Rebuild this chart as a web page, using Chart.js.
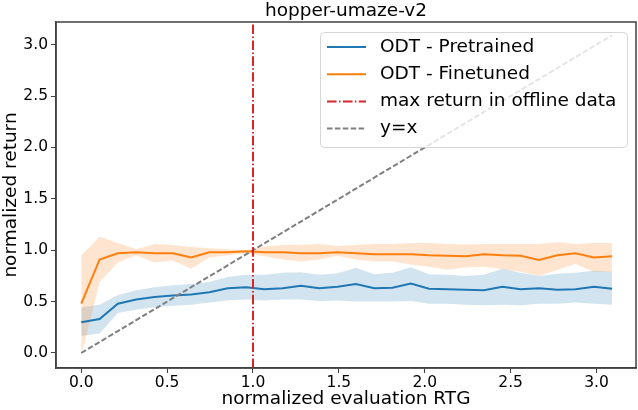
<!DOCTYPE html>
<html>
<head>
<meta charset="utf-8">
<script src="https://cdn.jsdelivr.net/npm/chart.js@4.4.1/dist/chart.umd.min.js"></script>
<style>
  html, body { margin: 0; padding: 0; background: #fff; }
  #wrap { width: 638px; height: 410px; }
</style>
</head>
<body>
<div id="wrap"><canvas id="odtChart"></canvas></div>
<script>
// normalized evaluation RTG (x)
const rtg = [0, 0.107, 0.213, 0.320, 0.426, 0.533, 0.640, 0.746, 0.853, 0.959,
    1.066, 1.173, 1.279, 1.386, 1.492, 1.599, 1.706, 1.812, 1.919, 2.025,
    2.132, 2.239, 2.345, 2.452, 2.558, 2.665, 2.772, 2.878, 2.985, 3.091];

// ODT - Pretrained
const pretrainedMean = [0.30, 0.33, 0.48, 0.52, 0.545, 0.56, 0.57, 0.59, 0.63, 0.64,
    0.62, 0.63, 0.655, 0.63, 0.645, 0.67, 0.63, 0.635, 0.675, 0.625,
    0.62, 0.615, 0.61, 0.645, 0.62, 0.63, 0.615, 0.62, 0.645, 0.625];
const pretrainedUpper = [0.445, 0.47, 0.565, 0.61, 0.64, 0.66, 0.67, 0.69, 0.74, 0.76,
    0.76, 0.78, 0.785, 0.76, 0.775, 0.83, 0.765, 0.78, 0.835, 0.765,
    0.76, 0.75, 0.76, 0.82, 0.78, 0.75, 0.77, 0.78, 0.80, 0.79];
const pretrainedLower = [0.165, 0.19, 0.39, 0.42, 0.445, 0.46, 0.47, 0.49, 0.51, 0.52,
    0.51, 0.52, 0.52, 0.505, 0.51, 0.50, 0.50, 0.50, 0.505, 0.48,
    0.48, 0.47, 0.465, 0.47, 0.465, 0.48, 0.48, 0.49, 0.48, 0.47];

// ODT - Finetuned
const finetunedMean = [0.48, 0.91, 0.97, 0.98, 0.97, 0.97, 0.93, 0.98, 0.98, 0.99,
    0.98, 0.98, 0.97, 0.97, 0.98, 0.97, 0.96, 0.96, 0.96, 0.95,
    0.945, 0.94, 0.96, 0.95, 0.945, 0.905, 0.95, 0.97, 0.93, 0.94];
const finetunedUpper = [0.95, 1.13, 1.07, 1.01, 1.06, 1.05, 1.03, 1.02, 1.01, 1.00,
    1.035, 1.05, 1.054, 1.06, 1.04, 1.05, 1.06, 1.06, 1.07, 1.07,
    1.06, 1.055, 1.06, 1.06, 1.06, 1.06, 1.08, 1.06, 1.07, 1.07];
const finetunedLower = [-0.03, 0.69, 0.88, 0.95, 0.88, 0.90, 0.82, 0.93, 0.95, 0.97,
    0.94, 0.91, 0.89, 0.91, 0.945, 0.91, 0.89, 0.89, 0.86, 0.84,
    0.81, 0.835, 0.84, 0.815, 0.79, 0.75, 0.81, 0.865, 0.79, 0.79];

const maxOfflineReturn = 1.0;
const xRange = [-0.147, 3.23];
const yRange = [-0.146, 3.22];
const yTicks = [0, 0.5, 1.0, 1.5, 2.0, 2.5, 3.0];
const chartTitle = 'hopper-umaze-v2';
const legendLabels = ['ODT - Pretrained', 'ODT - Finetuned', 'max return in offline data', 'y=x'];

const BLUE = '#1f77b4';
const ORANGE = '#ff7f0e';
const RED = '#d62728';
const GRAY = '#7f7f7f';
const DASHED = [5.5, 2.4];
const DASHDOT = [9.6, 2.4, 1.5, 2.4];

const pts = (ys) => rtg.map((x, i) => ({ x: x, y: ys[i] }));

const lineBase = { pointRadius: 0, tension: 0, fill: false, borderWidth: 2 };

const datasets = [
    { ...lineBase, data: [{ x: maxOfflineReturn, y: yRange[0] }, { x: maxOfflineReturn, y: yRange[1] }],
      borderColor: RED, borderDash: DASHDOT },
    { ...lineBase, data: rtg.map(x => ({ x: x, y: x })), borderColor: GRAY, borderDash: DASHED },
    { ...lineBase, data: pts(pretrainedMean), borderColor: BLUE },
    { ...lineBase, data: pts(finetunedMean), borderColor: ORANGE },
    { ...lineBase, data: pts(finetunedUpper), borderWidth: 0, fill: '+1',
      backgroundColor: 'rgba(255,127,14,0.2)' },
    { ...lineBase, data: pts(finetunedLower), borderWidth: 0 },
    { ...lineBase, data: pts(pretrainedUpper), borderWidth: 0, fill: '+1',
      backgroundColor: 'rgba(31,119,180,0.2)' },
    { ...lineBase, data: pts(pretrainedLower), borderWidth: 0 }
];

// legend swatches, same order as legendLabels
const legendStyles = [
    { color: BLUE, dash: [] },
    { color: ORANGE, dash: [] },
    { color: RED, dash: DASHDOT },
    { color: GRAY, dash: DASHED }
];

const FONT = "'DejaVu Sans', sans-serif";

const framePlugin = {
    id: 'frame',
    afterDraw(chart) {
        const { ctx, chartArea: a } = chart;
        ctx.save();
        ctx.strokeStyle = '#404040';
        ctx.lineWidth = 1.5;
        ctx.strokeRect(a.left, a.top, a.right - a.left, a.bottom - a.top);

        // title over the plot area
        ctx.fillStyle = '#000';
        ctx.font = '18.5px ' + FONT;
        ctx.textAlign = 'center';
        ctx.textBaseline = 'middle';
        ctx.fillText(chartTitle, (a.left + a.right) / 2, 11);

        // legend box
        const bx = 320, by = 32, bw = 307, bh = 115, r = 4;
        ctx.fillStyle = 'rgba(255,255,255,0.8)';
        ctx.strokeStyle = 'rgba(204,204,204,0.8)';
        ctx.lineWidth = 1;
        ctx.beginPath();
        ctx.roundRect(bx + 0.5, by + 0.5, bw, bh, r);
        ctx.fill();
        ctx.stroke();

        ctx.font = '18.5px ' + FONT;
        ctx.textAlign = 'left';
        legendLabels.forEach((label, i) => {
            const y = 47 + i * 27.2;
            ctx.strokeStyle = legendStyles[i].color;
            ctx.setLineDash(legendStyles[i].dash);
            ctx.lineWidth = 2;
            ctx.beginPath();
            ctx.moveTo(327, y);
            ctx.lineTo(366, y);
            ctx.stroke();
            ctx.setLineDash([]);
            ctx.fillStyle = '#000';
            ctx.fillText(label, 380, y);
        });
        ctx.restore();
    }
};

new Chart(document.getElementById('odtChart'), {
    type: 'line',
    data: { datasets: datasets },
    options: {
        responsive: true,
        maintainAspectRatio: false,
        animation: false,
        layout: { padding: { top: 22, right: 2, left: 0, bottom: 0 } },
        plugins: {
            legend: { display: false },
            tooltip: { enabled: false },
            title: { display: false }
        },
        scales: {
            x: {
                type: 'linear',
                min: xRange[0],
                max: xRange[1],
                afterFit: (s) => { s.height = 42; },
                grid: { display: true, drawOnChartArea: false, tickLength: 5, tickColor: '#404040' },
                border: { display: true, color: '#404040', width: 1.5 },
                ticks: {
                    stepSize: 0.5,
                    includeBounds: false,
                    color: '#000',
                    padding: 1,
                    maxRotation: 0,
                    font: { family: FONT, size: 15.5 },
                    callback: (v) => v.toFixed(1)
                },
                title: {
                    display: true,
                    text: 'normalized evaluation RTG',
                    color: '#000',
                    padding: { top: 0, bottom: 0 },
                    font: { family: FONT, size: 18.5 }
                }
            },
            y: {
                type: 'linear',
                min: yRange[0],
                max: yRange[1],
                afterFit: (s) => { s.width = 56; },
                afterBuildTicks: (s) => { s.ticks = yTicks.map(v => ({ value: v })); },
                grid: { display: true, drawOnChartArea: false, tickLength: 5, tickColor: '#404040' },
                border: { display: true, color: '#404040', width: 1.5 },
                ticks: {
                    color: '#000',
                    padding: 3,
                    font: { family: FONT, size: 15.5 },
                    callback: (v) => v.toFixed(1)
                },
                title: {
                    display: true,
                    text: 'normalized return',
                    color: '#000',
                    padding: { top: 0, bottom: 0 },
                    font: { family: FONT, size: 18.5 }
                }
            }
        }
    },
    plugins: [framePlugin]
});
</script>
</body>
</html>
